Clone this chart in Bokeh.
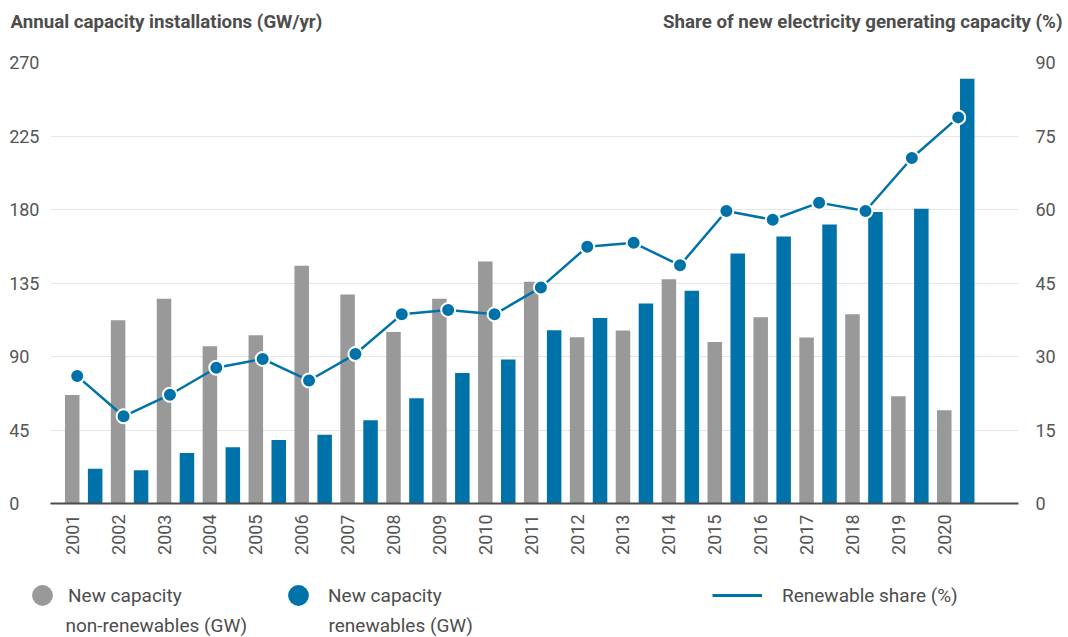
import math
from bokeh.plotting import figure
from bokeh.layouts import column
from bokeh.models import (Range1d, LinearAxis, FixedTicker, Legend, LegendItem,
                          Label, ColumnDataSource)
from bokeh.transform import dodge
from bokeh.embed import file_html
from bokeh.resources import INLINE

# ---------------- data ----------------
years = list(range(2001, 2021))
year_labels = [str(y) for y in years]
non_renewables_gw = [66.5, 112.2, 125.3, 96.3, 103.0, 145.5, 127.9, 105.0, 125.3, 148.1,
                     135.7, 101.8, 105.9, 137.3, 98.9, 114.0, 101.6, 115.9, 65.7, 57.1]
renewables_gw = [21.3, 20.3, 30.9, 34.4, 38.9, 42.1, 51.0, 64.4, 79.9, 88.1,
                 106.1, 113.6, 122.4, 130.2, 153.0, 163.4, 170.8, 178.5, 180.4, 260.0]
renewable_share_pct = [26.0, 17.8, 22.2, 27.7, 29.5, 25.1, 30.5, 38.6, 39.5, 38.6,
                       44.1, 52.4, 53.2, 48.6, 59.7, 57.9, 61.4, 59.7, 70.5, 78.8]
left_ticks = [0, 45, 90, 135, 180, 225, 270]
right_ticks = [0, 15, 30, 45, 60, 75, 90]
left_title = "Annual capacity installations (GW/yr)"
right_title = "Share of new electricity generating capacity (%)"
legend_first = ["New capacity", "New capacity", "Renewable share (%)"]
legend_second = ["non-renewables (GW)", "renewables (GW)"]

GREY = "#999999"
BLUE = "#0072aa"
TXT = "#555555"
DARK = "#4d4d4d"
FONT = "Roboto"
W = 1066


def blank_fig(h):
    f = figure(width=W, height=h, x_range=Range1d(0, W), y_range=Range1d(0, h),
               output_backend="svg", toolbar_location=None,
               x_axis_location=None, y_axis_location=None,
               min_border=0, min_border_left=0, min_border_right=0,
               min_border_top=0, min_border_bottom=0, frame_align=False)
    f.outline_line_color = None
    f.xgrid.visible = False
    f.ygrid.visible = False
    return f


src = ColumnDataSource(dict(year=years, nonren=non_renewables_gw,
                            ren=renewables_gw, share=renewable_share_pct))

# ---------------- header with the two axis titles ----------------
head = blank_fig(40)
head.add_layout(Label(x=10, y=19, x_units="screen", y_units="screen", text=left_title,
                      text_font=FONT, text_font_size="18.7px", text_font_style="bold",
                      text_color=DARK, text_baseline="middle", text_align="left"))
head.add_layout(Label(x=1062, y=19, x_units="screen", y_units="screen", text=right_title,
                      text_font=FONT, text_font_size="18.7px", text_font_style="bold",
                      text_color=DARK, text_baseline="middle", text_align="right"))

# ---------------- main chart ----------------
p = figure(width=W, height=525,
           x_range=Range1d(2000.527, 2021.617), y_range=Range1d(0, 270),
           output_backend="svg", toolbar_location=None,
           min_border_left=50, min_border_right=W - 1018,
           min_border_top=22, min_border_bottom=62, frame_align=False)
p.outline_line_color = None

p.extra_y_ranges = {"share": Range1d(0, 90)}
p.extra_x_ranges = {"line_x": Range1d(2000.424, 2021.30)}

p.vbar(x="year", top="nonren", width=0.316, source=src,
       fill_color=GREY, line_color=None)
p.vbar(x=dodge("year", 0.5, range=p.x_range), top="ren", width=0.316, source=src,
       fill_color=BLUE, line_color=None)

p.line(x="year", y="share", source=src, x_range_name="line_x",
       y_range_name="share", line_color=BLUE, line_width=2.5)
p.scatter(x="year", y="share", source=src, x_range_name="line_x",
          y_range_name="share", size=14, marker="circle",
          fill_color=BLUE, line_color="white", line_width=2)

xa = p.xaxis[0]
xa.ticker = FixedTicker(ticks=years)
xa.major_label_overrides = {y: s for y, s in zip(years, year_labels)}
xa.major_label_orientation = math.pi / 2
xa.axis_line_color = DARK
xa.axis_line_width = 2
xa.major_tick_line_color = None
xa.minor_tick_line_color = None
xa.major_tick_out = 0
xa.major_label_standoff = 11
xa.major_label_text_font = FONT
xa.major_label_text_font_size = "18px"
xa.major_label_text_color = TXT

fs = "\u2007"
ya = p.yaxis[0]
ya.ticker = FixedTicker(ticks=left_ticks)
ya.major_label_overrides = {t: str(t) + fs * (3 - len(str(t))) for t in left_ticks}
ya.axis_line_color = None
ya.major_tick_line_color = None
ya.minor_tick_line_color = None
ya.major_tick_out = 0
ya.major_label_standoff = 11
ya.major_label_text_font = FONT
ya.major_label_text_font_size = "18px"
ya.major_label_text_color = TXT
ya.major_label_text_baseline = "alphabetic"

ra = LinearAxis(y_range_name="share", ticker=FixedTicker(ticks=right_ticks))
ra.axis_line_color = None
ra.major_tick_line_color = None
ra.minor_tick_line_color = None
ra.major_tick_out = 0
ra.major_label_standoff = 17
ra.major_label_text_font = FONT
ra.major_label_text_font_size = "18px"
ra.major_label_text_color = TXT
ra.major_label_text_baseline = "alphabetic"
p.add_layout(ra, "right")

p.xgrid.grid_line_color = None
p.ygrid.grid_line_color = "#e6e6e6"
p.ygrid.grid_line_width = 1

# ---------------- legend row ----------------
leg = blank_fig(72)
# hidden renderers that only supply the legend glyphs
grey_proxy = leg.scatter(x="year", y="nonren", source=src, marker="circle",
                         fill_color=GREY, line_color=None, visible=False)
blue_proxy = leg.scatter(x="year", y="ren", source=src, marker="circle",
                         fill_color=BLUE, line_color=None, visible=False)
line_proxy = leg.line(x="year", y="share", source=src, line_color=BLUE,
                      line_width=3, visible=False)


def make_legend(label, renderer, loc, gw, gh, standoff):
    lg = Legend(items=[LegendItem(label=label, renderers=[renderer])],
                location=loc, orientation="horizontal",
                glyph_width=gw, glyph_height=gh, label_standoff=standoff,
                padding=0, margin=0, spacing=0,
                border_line_color=None, background_fill_alpha=0,
                inactive_fill_alpha=0,
                label_text_font=FONT, label_text_font_size="19px",
                label_text_color=DARK)
    leg.add_layout(lg, "center")


make_legend(legend_first[0], grey_proxy, (16, 16), 52, 52, -3)
make_legend(legend_first[1], blue_proxy, (272, 16), 52, 52, 4)
make_legend(legend_first[2], line_proxy, (712, 30), 50, 24, 20)

leg.add_layout(Label(x=65, y=12, x_units="screen", y_units="screen",
                     text=legend_second[0], text_font=FONT, text_font_size="19px",
                     text_color=DARK, text_baseline="middle"))
leg.add_layout(Label(x=328, y=12, x_units="screen", y_units="screen",
                     text=legend_second[1], text_font=FONT, text_font_size="19px",
                     text_color=DARK, text_baseline="middle"))

layout = column(head, p, leg, spacing=0)
open("out.html", "w").write(file_html(layout, INLINE))
